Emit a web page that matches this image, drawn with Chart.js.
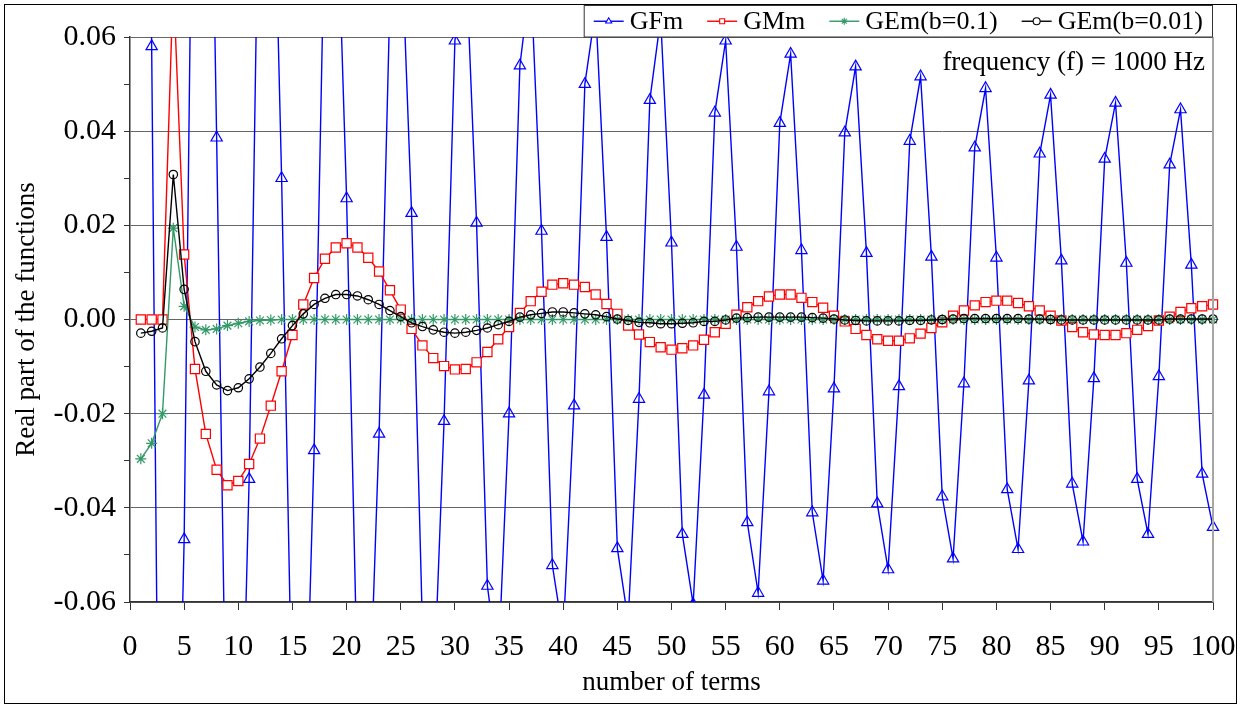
<!DOCTYPE html>
<html>
<head>
<meta charset="utf-8">
<script src="https://cdn.jsdelivr.net/npm/chart.js@4.4.1/dist/chart.umd.min.js"></script>
<style>
  html, body { margin: 0; padding: 0; background: #fff; }
  canvas { display: block; }
</style>
</head>
<body>
<canvas id="chart" width="1248" height="706"></canvas>
<script>
// number of terms (x)
const terms = [
  1, 2, 3, 4, 5, 6, 7, 8, 9, 10, 11, 12, 13, 14, 15, 16, 17, 18, 19, 20,
  21, 22, 23, 24, 25, 26, 27, 28, 29, 30, 31, 32, 33, 34, 35, 36, 37, 38, 39, 40,
  41, 42, 43, 44, 45, 46, 47, 48, 49, 50, 51, 52, 53, 54, 55, 56, 57, 58, 59, 60,
  61, 62, 63, 64, 65, 66, 67, 68, 69, 70, 71, 72, 73, 74, 75, 76, 77, 78, 79, 80,
  81, 82, 83, 84, 85, 86, 87, 88, 89, 90, 91, 92, 93, 94, 95, 96, 97, 98, 99, 100
]

// real part of each function
const gfm = [
  0.35, 0.058, -0.195, -0.15, -0.0467, 0.15, 0.175, 0.0386, -0.11, -0.125,
  -0.0339, 0.113, 0.125, 0.030, -0.088, -0.11, -0.0278, 0.088, 0.10, 0.0257,
  -0.078, -0.092, -0.0243, 0.068, 0.085, 0.0226, -0.065, -0.082, -0.0216, 0.0592,
  0.078, 0.0205, -0.0566, -0.074, -0.0200, 0.0539, 0.073, 0.0188, -0.0522, -0.067,
  -0.0183, 0.0500, 0.066, 0.0175, -0.0486, -0.064, -0.0169, 0.0466, 0.064, 0.0163,
  -0.0456, -0.0605, -0.0160, 0.0439, 0.0592, 0.0154, -0.0431, -0.0581, -0.0153, 0.0417,
  0.0564, 0.0147, -0.0410, -0.0555, -0.0147, 0.0397, 0.0537, 0.0141, -0.0391, -0.0531,
  -0.0142, 0.0379, 0.0516, 0.0133, -0.0376, -0.0508, -0.0136, 0.0365, 0.0491, 0.0131,
  -0.0361, -0.0488, -0.0130, 0.0352, 0.0477, 0.0125, -0.0349, -0.0472, -0.0125, 0.0341,
  0.0460, 0.0120, -0.0339, -0.0456, -0.0121, 0.0329, 0.0446, 0.0116, -0.0328, -0.0441
]

const gmm = [
  0, 0, 0, 0.072, 0.0138, -0.0105, -0.0243, -0.0319, -0.0352, -0.0343,
  -0.0307, -0.0253, -0.0183, -0.0110, -0.0033, 0.0032, 0.0088, 0.0129, 0.0153, 0.0162,
  0.0153, 0.0131, 0.0102, 0.0062, 0.0021, -0.0020, -0.0055, -0.0082, -0.0099, -0.0106,
  -0.0105, -0.0091, -0.0069, -0.0042, -0.0016, 0.0014, 0.0039, 0.0059, 0.0074, 0.0077,
  0.0074, 0.0069, 0.0053, 0.0033, 0.0012, -0.0013, -0.0032, -0.0048, -0.0059, -0.0064,
  -0.0061, -0.0055, -0.0043, -0.0027, -0.0009, 0.0010, 0.0026, 0.0039, 0.0049, 0.0053,
  0.0053, 0.0046, 0.0037, 0.0025, 0.0008, -0.0004, -0.0020, -0.0033, -0.0042, -0.0045,
  -0.0045, -0.0040, -0.0030, -0.0018, -0.0006, 0.0008, 0.0019, 0.0030, 0.0037, 0.0040,
  0.0040, 0.0035, 0.0028, 0.0019, 0.0008, -0.0002, -0.0016, -0.0027, -0.0032, -0.0033,
  -0.0033, -0.0029, -0.0022, -0.0014, -0.0002, 0.0006, 0.0016, 0.0024, 0.0028, 0.0032
]

const gemB01 = [
  -0.0296, -0.0263, -0.0200, 0.0194, 0.0028, -0.0016, -0.0022, -0.0020, -0.0013, -0.0008,
  -0.0004, -0.0002, -0.0001, 0, 0, 0, 0, 0, 0, 0,
  0, 0, 0, 0, 0, 0, 0, 0, 0, 0,
  0, 0, 0, 0, 0, 0, 0, 0, 0, 0,
  0, 0, 0, 0, 0, 0, 0, 0, 0, 0,
  0, 0, 0, 0, 0, 0, 0, 0, 0, 0,
  0, 0, 0, 0, 0, 0, 0, 0, 0, 0,
  0, 0, 0, 0, 0, 0, 0, 0, 0, 0,
  0, 0, 0, 0, 0, 0, 0, 0, 0, 0,
  0, 0, 0, 0, 0, 0, 0, 0, 0, 0
]

const gemB001 = [
  -0.0029, -0.0025, -0.0018, 0.0308, 0.0064, -0.0047, -0.0110, -0.0139, -0.0151, -0.0145,
  -0.0126, -0.0101, -0.0072, -0.0041, -0.0013, 0.0012, 0.0032, 0.0045, 0.0053, 0.0053,
  0.0050, 0.0042, 0.0032, 0.0019, 0.0006, -0.0007, -0.0015, -0.0022, -0.0027, -0.0029,
  -0.0027, -0.0023, -0.0018, -0.0011, -0.0004, 0.0005, 0.0010, 0.0013, 0.0016, 0.0016,
  0.0014, 0.0012, 0.0010, 0.0006, 0.0001, -0.0002, -0.0006, -0.0007, -0.0009, -0.0009,
  -0.0008, -0.0007, -0.0004, -0.0004, -0.0001, 0.0003, 0.0004, 0.0005, 0.0005, 0.0005,
  0.0005, 0.0005, 0.0004, 0.0003, 0.0001, -0.0001, -0.0002, -0.0003, -0.0003, -0.0003,
  -0.0003, -0.0002, -0.0002, -0.0001, 0, 0.0001, 0.0002, 0.0002, 0.0002, 0.0002,
  0.0002, 0.0002, 0.0001, 0.0001, 0, -0.0001, -0.0001, -0.0001, -0.0001, -0.0001,
  -0.0001, -0.0001, -0.0001, -0.0001, -0.0001, 0.0001, 0.0001, 0.0001, 0.0001, 0.0001
]

const seriesLabels = ["GFm", "GMm", "GEm(b=0.1)", "GEm(b=0.01)"]
const xRange = [0, 100]
const yRange = [-0.06, 0.06]
const note = "frequency (f) = 1000 Hz"

const SERIF = '"Liberation Serif", "Times New Roman", serif'
Chart.defaults.font.family = SERIF
Chart.defaults.font.size = 27
Chart.defaults.color = "#000"

const tickFont = { family: SERIF, size: 30 }
const titleFont = { family: SERIF, size: 27 }

const points = (values) => terms.map((t, i) => ({ x: t, y: values[i] }))

const styles = [
  { color: "#0000ff", pointStyle: "triangle", radius: 6.5, fill: "rgba(0,0,0,0)" },
  { color: "#ff0000", pointStyle: "rect", radius: 6.5, fill: "#ffffff" },
  { color: "#339966", pointStyle: "star", radius: 5.5, fill: "rgba(0,0,0,0)" },
  { color: "#000000", pointStyle: "circle", radius: 4.2, fill: "rgba(0,0,0,0)" }
]

const datasets = [gfm, gmm, gemB01, gemB001].map((values, i) => ({
  label: seriesLabels[i],
  data: points(values),
  borderColor: styles[i].color,
  borderWidth: 1.4,
  pointStyle: styles[i].pointStyle,
  pointRadius: styles[i].radius,
  pointBorderWidth: 1.2,
  pointBorderColor: styles[i].color,
  pointBackgroundColor: styles[i].fill,
  tension: 0,
  order: 3 - i,
  clip: { left: 0, top: 0, bottom: 0, right: 10 }
}))

// legend box on top of the plot, note in the top right corner, outer frame
const decorations = {
  id: "decorations",
  beforeDraw(chart) {
    const { ctx, width, height } = chart
    ctx.save()
    ctx.fillStyle = "#fff"
    ctx.fillRect(0, 0, width, height)
    ctx.strokeStyle = "#000"
    ctx.lineWidth = 1
    ctx.strokeRect(4.5, 4.5, 1232, 699)
    ctx.restore()
  },
  afterDraw(chart) {
    const { ctx, chartArea } = chart
    ctx.save()

    // right frame of the plot
    ctx.strokeStyle = "#a6a6a6"
    ctx.lineWidth = 2
    ctx.beginPath()
    ctx.moveTo(chartArea.right, chartArea.top)
    ctx.lineTo(chartArea.right, chartArea.bottom)
    ctx.stroke()

    // legend
    ctx.font = `26px ${SERIF}`
    const sample = 30, gap = 6, spacing = 24, pad = 10
    const widths = seriesLabels.map((l) => ctx.measureText(l).width)
    const total = widths.reduce((s, w) => s + w + sample + gap, 0) + spacing * (widths.length - 1) + pad * 2
    const boxRight = chartArea.right
    const boxLeft = boxRight - total
    const boxTop = 5.5
    const boxBottom = chartArea.top
    ctx.fillStyle = "#fff"
    ctx.fillRect(boxLeft, boxTop, total, boxBottom - boxTop)
    ctx.strokeStyle = "#333"
    ctx.lineWidth = 1
    ctx.strokeRect(boxLeft + 0.5, boxTop, total - 1, boxBottom - boxTop)

    const cy = (boxTop + boxBottom) / 2
    let x = boxLeft + pad
    seriesLabels.forEach((label, i) => {
      const st = styles[i]
      ctx.strokeStyle = st.color
      ctx.lineWidth = 1.4
      ctx.beginPath()
      ctx.moveTo(x, cy)
      ctx.lineTo(x + sample, cy)
      ctx.stroke()
      ctx.fillStyle = "#fff"
      ctx.lineWidth = 1.1
      Chart.helpers.drawPoint(ctx, { pointStyle: st.pointStyle, radius: 3.5, rotation: 0, borderWidth: 1.1 }, x + sample / 2, cy)
      ctx.fillStyle = "#000"
      ctx.textAlign = "left"
      ctx.textBaseline = "middle"
      ctx.fillText(label, x + sample + gap, cy + 1)
      x += sample + gap + widths[i] + spacing
    })

    // frequency note
    ctx.font = `27px ${SERIF}`
    ctx.fillStyle = "#000"
    ctx.textAlign = "right"
    ctx.textBaseline = "middle"
    ctx.fillText(note, chartArea.right - 8, chartArea.top + 26)
    ctx.restore()
  }
}

new Chart(document.getElementById("chart"), {
  type: "line",
  data: { datasets },
  options: {
    responsive: false,
    animation: false,
    layout: { padding: { left: 0, top: 37, right: 35, bottom: 0 } },
    plugins: { legend: { display: false }, tooltip: { enabled: false } },
    scales: {
      x: {
        type: "linear",
        min: xRange[0],
        max: xRange[1],
        ticks: { stepSize: 5, autoSkip: false, maxRotation: 0, padding: 19, font: tickFont, color: "#000" },
        grid: { drawOnChartArea: false, tickLength: 8, tickColor: "#333", tickWidth: 1 },
        border: { color: "#333", width: 1.5 },
        title: { display: true, text: "number of terms", padding: { top: 0, bottom: 7 }, font: titleFont, color: "#000" },
        afterFit: (scale) => {
          scale.height = 104
          scale.paddingLeft = 0
          scale.paddingRight = 0
        }
      },
      y: {
        type: "linear",
        min: yRange[0],
        max: yRange[1],
        ticks: {
          stepSize: 0.01,
          autoSkip: false,
          padding: 8,
          font: tickFont,
          color: "#000",
          callback: (v) => {
            const n = Math.round(v * 100)
            return n % 2 === 0 ? (n / 100).toFixed(2) : ""
          }
        },
        grid: {
          color: (c) => (Math.round(c.tick.value * 100) % 2 === 0 ? "#666" : "rgba(0,0,0,0)"),
          lineWidth: 1,
          tickLength: 6,
          tickColor: "#333"
        },
        border: { color: "#333", width: 1.5 },
        title: { display: true, text: "Real part of the functions", padding: { top: 11, bottom: 0 }, font: titleFont, color: "#000" },
        afterFit: (scale) => { scale.width = 130 }
      }
    }
  },
  plugins: [decorations]
})
</script>
</body>
</html>
